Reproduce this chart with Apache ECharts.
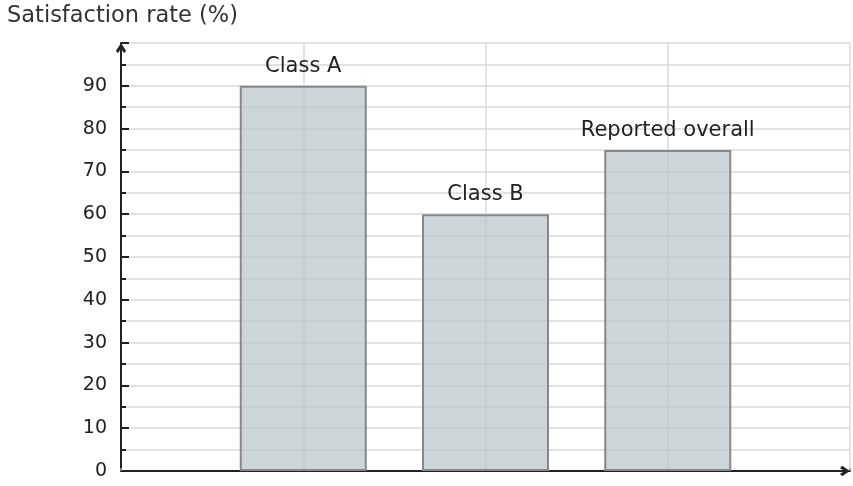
<!DOCTYPE html>
<html>
<head>
<meta charset="utf-8">
<script src="https://cdn.jsdelivr.net/npm/echarts@6/dist/echarts.min.js"></script>
<style>
  html, body { margin: 0; padding: 0; background: #fff; }
  #chart { width: 853px; height: 486px; }
</style>
</head>
<body>
<div id="chart"></div>
<script>
var categories = ['Class A', 'Class B', 'Reported overall'];
var positions = [1, 2, 3];
var values = [90, 60, 75];
var yTicks = [0, 10, 20, 30, 40, 50, 60, 70, 80, 90];

var myChart = echarts.init(document.getElementById('chart'));

var barData = values.map(function (v, i) {
    return [positions[i], v];
});

// open chevron head for the axis ends
var chevron = 'path://M0,7.6 L5,0 L10,7.6 L7.7,9.6 L5,5 L2.3,9.6 Z';

var option = {
    animation: false,
    textStyle: { fontFamily: 'DejaVu Sans' },
    title: {
        text: 'Satisfaction rate (%)',
        left: 2,
        top: 0,
        textStyle: { fontSize: 22.5, fontWeight: 'normal', color: '#333', fontFamily: 'DejaVu Sans' }
    },
    grid: { left: 121, right: 3, top: 43, bottom: 15 },
    xAxis: {
        type: 'value',
        min: 0,
        max: 4,
        interval: 1,
        axisLine: {
            show: true,
            lineStyle: { color: '#222', width: 2 },
            symbol: ['none', chevron],
            symbolSize: [12, 10],
            symbolOffset: [0, -5]
        },
        axisTick: { show: true, inside: true, length: 3, lineStyle: { color: '#999', width: 1.5 } },
        axisLabel: { show: false },
        splitLine: { show: true, lineStyle: { color: '#d9d9d9', width: 1.5 } }
    },
    yAxis: {
        type: 'value',
        min: 0,
        max: 100,
        interval: 10,
        axisLine: {
            show: true,
            lineStyle: { color: '#222', width: 2 },
            symbol: ['none', chevron],
            symbolSize: [12, 10],
            symbolOffset: [0, -5]
        },
        axisTick: { show: true, inside: true, length: 8, lineStyle: { color: '#222', width: 2 } },
        minorTick: { show: true, splitNumber: 2, length: 5, lineStyle: { color: '#222', width: 2 } },
        axisLabel: {
            fontSize: 19,
            color: '#222',
            margin: 14,
            formatter: function (v) {
                return yTicks.indexOf(v) >= 0 ? String(v) : '';
            }
        },
        splitLine: { show: true, lineStyle: { color: '#d9d9d9', width: 1.5 } },
        minorSplitLine: { show: true, lineStyle: { color: '#d9d9d9', width: 1.5 } }
    },
    series: [
        {
            type: 'bar',
            data: barData,
            barWidth: 127,
            itemStyle: {
                color: 'rgba(189,200,204,0.76)',
                borderColor: '#888',
                borderWidth: 2
            },
            label: {
                show: true,
                position: 'top',
                distance: 9,
                fontSize: 21,
                color: '#222',
                formatter: function (p) {
                    return categories[p.dataIndex];
                }
            }
        }
    ]
};

myChart.setOption(option);
</script>
</body>
</html>
